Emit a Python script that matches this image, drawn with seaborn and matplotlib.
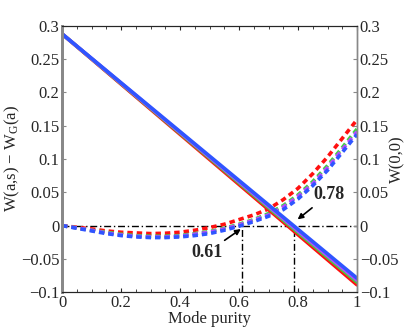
import numpy as np
import pandas as pd
import seaborn as sns
import matplotlib
matplotlib.use("Agg")
import matplotlib.pyplot as plt
from matplotlib.ticker import MultipleLocator

# mode purity grid for the dashed curves
purity = [0.0, 0.05, 0.1, 0.15, 0.2, 0.25, 0.3, 0.35, 0.4, 0.45, 0.5,
          0.55, 0.6, 0.65, 0.7, 0.75, 0.8, 0.85, 0.9, 0.95, 1.0]

# W(0,0), dashed curves (right axis)
w00_red = [0.0, -0.0025, -0.005, -0.008, -0.010, -0.011, -0.012, -0.0115, -0.010, -0.007, -0.003,
           0.002, 0.009, 0.016, 0.025, 0.039, 0.056, 0.078, 0.103, 0.131, 0.159]
w00_green = [0.0, -0.0035, -0.007, -0.010, -0.013, -0.015, -0.016, -0.016, -0.015, -0.012, -0.009,
             -0.004, 0.002, 0.009, 0.018, 0.030, 0.046, 0.066, 0.090, 0.117, 0.145]
w00_purple = [0.0, -0.0035, -0.007, -0.011, -0.014, -0.016, -0.017, -0.017, -0.016, -0.013, -0.010,
              -0.005, 0.001, 0.008, 0.016, 0.028, 0.044, 0.063, 0.087, 0.114, 0.141]
w00_blue = [0.0, -0.004, -0.008, -0.012, -0.015, -0.017, -0.018, -0.018, -0.017, -0.015, -0.012,
            -0.007, -0.001, 0.006, 0.014, 0.024, 0.040, 0.060, 0.083, 0.110, 0.137]

# W(a,s) - W_G(a), solid straight lines (left axis)
purity_ends = [0.0, 1.0]
diff_red = [0.288, -0.089]
diff_green = [0.288, -0.085]
diff_purple = [0.288, -0.082]
diff_blue = [0.288, -0.079]

colors = {"red": "#ff1010", "green": "#3fd23f", "purple": "#b44cff", "blue": "#2f55ff"}

sns.set_style("ticks")
plt.rcParams["font.family"] = ["Liberation Serif", "DejaVu Serif"]
plt.rcParams["mathtext.fontset"] = "custom"
plt.rcParams["mathtext.rm"] = "Liberation Serif"
plt.rcParams["mathtext.it"] = "Liberation Serif:italic"
plt.rcParams["font.size"] = 12

fig = plt.figure(figsize=(4.08, 3.32), dpi=100)
ax = fig.add_axes([0.152, 0.12, 0.723, 0.802])

# reference dash-dot lines
dashdot = (0, (5, 2, 1, 2))
ax.plot([0, 1], [0, 0], color="black", lw=1.0, ls=dashdot)
for xc in [0.61, 0.785]:
    ax.plot([xc, xc], [-0.1, 0], color="black", lw=1.0, ls=dashdot)

dash = (0, (1.5, 1.1))
for name, vals in [("red", w00_red), ("green", w00_green), ("purple", w00_purple), ("blue", w00_blue)]:
    df = pd.DataFrame({"x": purity, "y": vals})
    sns.lineplot(data=df, x="x", y="y", ax=ax, color=colors[name], lw=2.6, linestyle=dash)

for name, vals in [("red", diff_red), ("green", diff_green), ("purple", diff_purple), ("blue", diff_blue)]:
    df = pd.DataFrame({"x": purity_ends, "y": vals})
    sns.lineplot(data=df, x="x", y="y", ax=ax, color=colors[name], lw=2.6)

ax.set_xlim(0, 1)
ax.set_ylim(-0.1, 0.3)
ax.set_xticks([0, 0.2, 0.4, 0.6, 0.8, 1])
ax.set_xticklabels(["0", "0.2", "0.4", "0.6", "0.8", "1"])
ax.xaxis.set_minor_locator(MultipleLocator(0.05))
yt = [-0.1, -0.05, 0, 0.05, 0.1, 0.15, 0.2, 0.25, 0.3]
ylab = ["\u22120.1", "\u22120.05", "0", "0.05", "0.1", "0.15", "0.2", "0.25", "0.3"]
ax.set_yticks(yt)
ax.set_yticklabels(ylab)
ax.set_xlabel("Mode purity", labelpad=0)
ax.set_ylabel(r"W(a,s) $-$ W$_{\mathrm{G}}$(a)")
ax.yaxis.set_label_coords(-0.135, 0.5)
ax.tick_params(direction="in", length=3, width=0.8, pad=2, top=True, which="major")
ax.tick_params(direction="in", length=2, width=0.6, top=True, which="minor")
ax.tick_params(axis="y", color="#888888")

ax2 = ax.twinx()
ax2.set_ylim(-0.1, 0.3)
ax2.set_yticks(yt)
ax2.set_yticklabels(ylab)
ax2.set_ylabel("W(0,0)")
ax2.yaxis.set_label_coords(1.11, 0.5)
ax2.tick_params(direction="in", length=3, width=0.8, pad=2, color="#888888")

for a in (ax, ax2):
    a.spines["left"].set_color("#888888")
    a.spines["right"].set_color("#888888")
    a.spines["left"].set_linewidth(2.0)
    a.spines["right"].set_linewidth(1.0)
    a.spines["top"].set_linewidth(0.8)
    a.spines["bottom"].set_linewidth(0.8)

ax.annotate("0.61", xy=(0.61, -0.004), xytext=(0.49, -0.041), fontsize=13, fontweight="bold",
            ha="center", va="center",
            arrowprops=dict(arrowstyle="-|>", color="black", lw=1.2, mutation_scale=8, shrinkA=1, shrinkB=1))
ax.annotate("0.78", xy=(0.795, 0.008), xytext=(0.905, 0.047), fontsize=13, fontweight="bold",
            ha="center", va="center",
            arrowprops=dict(arrowstyle="-|>", color="black", lw=1.2, mutation_scale=8, shrinkA=2, shrinkB=1))

plt.savefig("out.png", dpi=100)
